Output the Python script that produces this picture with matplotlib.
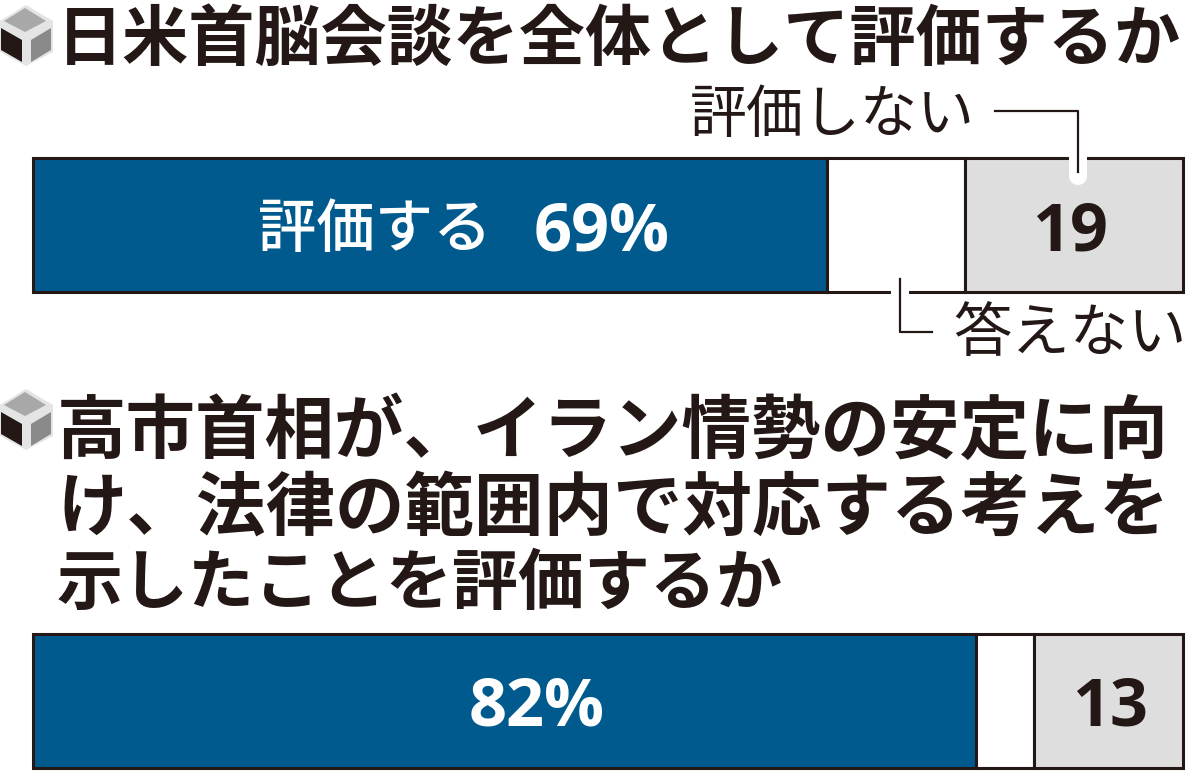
import matplotlib
matplotlib.use("Agg")
import matplotlib.pyplot as plt
from matplotlib.patches import Polygon

plt.rcParams['font.family'] = ['Noto Sans CJK JP', 'DejaVu Sans']

# Data
yes_values = [69, 82]
no_answer_values = [12, 5]
no_values = [19, 13]
label_yes = "評価する"
label_no = "評価しない"
label_na = "答えない"
title_one = ["日米首脳会談を全体として評価するか"]
title_two = ["高市首相が、イラン情勢の安定に向", "け、法律の範囲内で対応する考えを", "示したことを評価するか"]

INK = "#231815"
BLUE = "#005A8E"
GREY = "#DEDEDE"
W, H = 1200, 779

fig = plt.figure(figsize=(W / 100, H / 100), dpi=100, facecolor="white")
# Axes spans the 0-100% width of the bars; y is in image rows
ax = fig.add_axes([33 / W, 0, 1150 / W, 1])
ax.set_xlim(0, 100)
ax.set_ylim(H, 0)
ax.axis("off")

px = 100 / 1150
def X(p):
    return (p - 33) * px

tops = [158, 634]
height = 134
for top, a, b, c in zip(tops, yes_values, no_answer_values, no_values):
    y = top + height / 2
    ax.barh(y, a, height=height, left=0, color=BLUE, edgecolor=INK, linewidth=2.2, clip_on=False)
    ax.barh(y, b, height=height, left=a, color="white", edgecolor=INK, linewidth=2.2, clip_on=False)
    ax.barh(y, c, height=height, left=a + b, color=GREY, edgecolor=INK, linewidth=2.2, clip_on=False)

DIG = dict(family=['Open Sans', 'DejaVu Sans'], fontweight="bold", va="center_baseline", clip_on=False)
# First bar labels
ax.text(X(258), 230, label_yes, color="white", fontsize=42, fontweight="medium", ha="left", va="center")
ax.text(X(602), 225, f"{yes_values[0]}%", color="white", fontsize=48, ha="center", **DIG)
ax.text(X(1070), 225, f"{no_values[0]}", color=INK, fontsize=48, ha="center", **DIG)
# Second bar labels
ax.text(X(537), 700, f"{yes_values[1]}%", color="white", fontsize=48, ha="center", **DIG)
ax.text(X(1110), 700, f"{no_values[1]}", color=INK, fontsize=48, ha="center", **DIG)

# Leader labels
ax.text(X(690), 116, label_no, color=INK, fontsize=41, ha="left", va="center")
ax.text(X(953), 334, label_na, color=INK, fontsize=42, ha="left", va="center")

# Leader lines with white notches through the bar border
ax.plot([X(1078)] * 2, [150, 176], color="white", lw=13, solid_capstyle="round", zorder=4, clip_on=False)
ax.plot([X(995), X(1078), X(1078)], [111, 111, 172], color=INK, lw=1.6, zorder=5, clip_on=False)
ax.plot([X(900)] * 2, [284, 300], color="white", lw=13, solid_capstyle="butt", zorder=4, clip_on=False)
ax.plot([X(900), X(900), X(932)], [279, 332, 332], color=INK, lw=1.6, zorder=5, clip_on=False)

# Titles
ax.text(X(57), 40, title_one[0], color=INK, fontsize=47.6, fontweight="bold", ha="left", va="center")
for y, line, fs in zip([433, 509, 584], title_two, [50, 50, 47.5]):
    ax.text(X(57), y, line, color=INK, fontsize=fs, fontweight="bold", ha="left", va="center")

# Cube bullets
def cube(x0, y0):
    back = [(26, 5), (53, 21), (53, 52), (26, 66), (0, 52), (0, 21)]
    top = [(25, 8), (46, 21), (25, 32), (4, 21)]
    left = [(1, 28), (22, 40), (22, 62), (1, 50)]
    right = [(31, 40), (51, 28), (51, 50), (31, 62)]
    for pts, col in ((back, "#E4E4E4"), (top, "#A8A8A8"), (left, INK), (right, "#8A8A8A")):
        ax.add_patch(Polygon([(X(x0 + p), y0 + q) for p, q in pts],
                             closed=True, facecolor=col, edgecolor="none", clip_on=False))
cube(0, 0)
cube(0, 384)

fig.savefig("out.png", dpi=100, facecolor="white")
